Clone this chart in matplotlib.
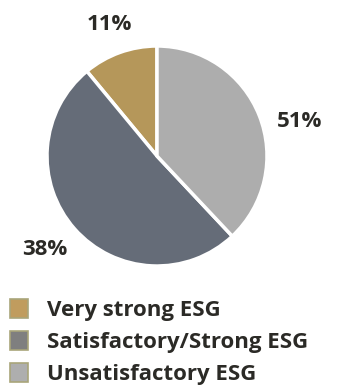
import matplotlib
matplotlib.use("Agg")
import matplotlib.pyplot as plt
from matplotlib.patches import Patch

categories = ["Very strong ESG", "Satisfactory/Strong ESG", "Unsatisfactory ESG"]
shares = [11, 51, 38]
pct_labels = ["11%", "38%", "51%"]

wedge_colors = ["#B5975A", "#656C78", "#ADADAD"]
legend_colors = ["#C09C5E", "#7F7F7F", "#AEAEAE"]
text_color = "#2B2A26"

plt.rcParams["font.family"] = ["Open Sans", "DejaVu Sans"]

fig = plt.figure(figsize=(3.38, 3.89), dpi=100)
ax = fig.add_axes([47 / 338, (389 - 156 - 110) / 389, 220 / 338, 220 / 389])

ax.pie(shares, colors=wedge_colors, startangle=90, counterclock=True,
       wedgeprops=dict(edgecolor="white", linewidth=2.5))
ax.set_xlim(-1, 1)
ax.set_ylim(-1, 1)

# label spots as placed in the source chart
label_pos = [(-0.43, 1.20), (-1.02, -0.85), (1.30, 0.31)]
for txt, (x, y) in zip(pct_labels, label_pos):
    ax.text(x, y, txt, ha="center", va="center", fontsize=16,
            fontweight="bold", color=text_color, clip_on=False)

handles = [Patch(facecolor=c, edgecolor="#A9A57A", linewidth=1.2) for c in legend_colors]
leg = fig.legend(handles, categories, loc="upper left", bbox_to_anchor=(0.004, 0.254),
                 frameon=False, handlelength=0.81, handleheight=0.95, handletextpad=0.85,
                 labelspacing=0.43, borderaxespad=0,
                 prop=dict(size=16, weight="bold"))
for t in leg.get_texts():
    t.set_color(text_color)

fig.savefig("out.png", dpi=100)
